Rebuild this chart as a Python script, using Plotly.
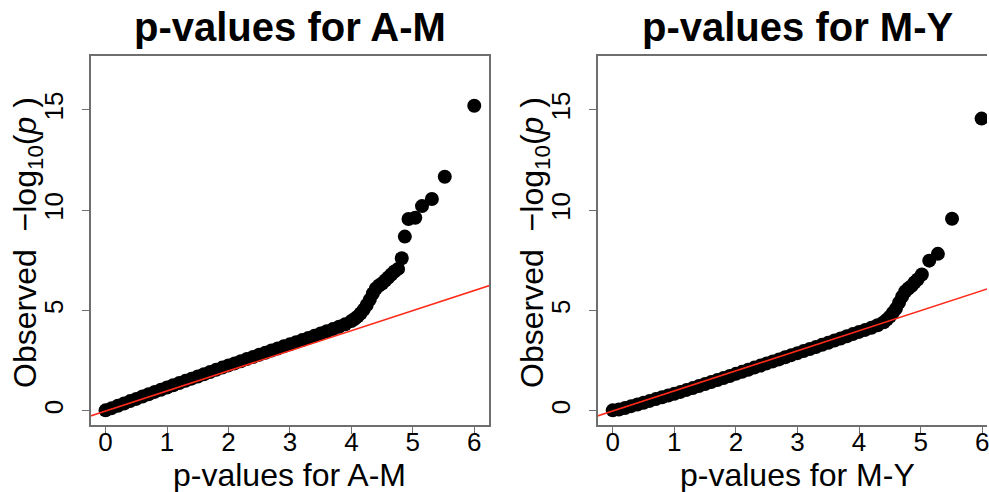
import plotly.graph_objects as go

# ---- data (expected vs observed -log10 p) ----
am_expected = [0.0, 0.1, 0.2, 0.3, 0.4, 0.5, 0.6, 0.7, 0.8, 0.9,
               1.0, 1.1, 1.2, 1.3, 1.4, 1.5, 1.6, 1.7, 1.8, 1.9,
               2.0, 2.1, 2.2, 2.3, 2.4, 2.5, 2.6, 2.7, 2.8, 2.9,
               3.0, 3.1, 3.2, 3.3, 3.4, 3.5, 3.6, 3.7, 3.8, 3.9,
               4.0, 4.05, 4.1, 4.15, 4.2, 4.25, 4.3, 4.35, 4.4, 4.45,
               4.5, 4.55, 4.6, 4.65, 4.7, 4.76, 4.82, 4.87, 4.93, 5.04,
               5.15, 5.31, 5.52, 6.0]
am_observed = [0.03, 0.14, 0.26, 0.37, 0.49, 0.60, 0.72, 0.83, 0.95, 1.06,
               1.17, 1.28, 1.39, 1.50, 1.61, 1.72, 1.83, 1.94, 2.05, 2.16,
               2.27, 2.37, 2.48, 2.59, 2.69, 2.80, 2.90, 3.01, 3.11, 3.22,
               3.32, 3.43, 3.53, 3.64, 3.75, 3.86, 3.97, 4.08, 4.20, 4.32,
               4.48, 4.58, 4.70, 4.86, 5.05, 5.28, 5.55, 5.85, 6.10, 6.25,
               6.35, 6.50, 6.65, 6.80, 6.95, 7.08, 7.61, 8.69, 9.57, 9.63,
               10.21, 10.56, 11.67, 15.21]

my_expected = [0.0, 0.1, 0.2, 0.3, 0.4, 0.5, 0.6, 0.7, 0.8, 0.9,
               1.0, 1.1, 1.2, 1.3, 1.4, 1.5, 1.6, 1.7, 1.8, 1.9,
               2.0, 2.1, 2.2, 2.3, 2.4, 2.5, 2.6, 2.7, 2.8, 2.9,
               3.0, 3.1, 3.2, 3.3, 3.4, 3.5, 3.6, 3.7, 3.8, 3.9,
               4.0, 4.1, 4.2, 4.3, 4.4, 4.45, 4.5, 4.55, 4.6, 4.65,
               4.7, 4.75, 4.8, 4.85, 4.9, 4.95, 5.02, 5.14, 5.28, 5.51,
               5.99]
my_observed = [0.03, 0.07, 0.15, 0.24, 0.32, 0.41, 0.50, 0.59, 0.68, 0.77,
               0.86, 0.95, 1.05, 1.14, 1.24, 1.34, 1.44, 1.54, 1.64, 1.74,
               1.85, 1.95, 2.05, 2.16, 2.26, 2.37, 2.47, 2.57, 2.68, 2.78,
               2.88, 2.99, 3.09, 3.19, 3.30, 3.40, 3.51, 3.61, 3.72, 3.83,
               3.94, 4.04, 4.15, 4.27, 4.42, 4.55, 4.70, 4.90, 5.10, 5.40,
               5.70, 5.95, 6.10, 6.22, 6.40, 6.55, 6.80, 7.49, 7.83, 9.58,
               14.57]

x_ticks = [0, 1, 2, 3, 4, 5, 6]
y_ticks = [0, 5, 10, 15]
panel_titles = ["p-values for A-M", "p-values for M-Y"]
abline_x = [-1, 8]          # y = x reference line (slope 1, intercept 0)
abline_y = [v for v in abline_x]

W, H = 989, 492
FONT = "Liberation Sans, Arial, Helvetica, sans-serif"
BOX = "#6e6e6e"

fig = go.Figure()

for i, (ex, ob) in enumerate([(am_expected, am_observed), (my_expected, my_observed)]):
    xa = "x" if i == 0 else "x2"
    ya = "y" if i == 0 else "y2"
    fig.add_trace(go.Scatter(x=ex, y=ob, mode="markers", xaxis=xa, yaxis=ya,
                             marker=dict(color="black", size=14, line=dict(width=0)),
                             showlegend=False, hoverinfo="skip"))
    fig.add_trace(go.Scatter(x=abline_x, y=abline_y, mode="lines", xaxis=xa, yaxis=ya,
                             line=dict(color="#ff2a1a", width=1.6),
                             showlegend=False, hoverinfo="skip"))

def px_x(p):
    return p / W

def px_y(p):
    return (H - p) / H

ydom = [px_y(425), px_y(56)]
axis_common = dict(showgrid=False, zeroline=False, showline=True, linecolor=BOX, linewidth=1.5,
                   ticks="outside", ticklen=7, tickwidth=1.3, tickcolor=BOX,
                   tickfont=dict(family=FONT, size=26, color="black"))

fig.update_layout(
    width=W, height=H, autosize=False,
    margin=dict(l=0, r=0, t=0, b=0),
    paper_bgcolor="white", plot_bgcolor="white",
    xaxis=dict(domain=[px_x(91), px_x(490)], range=[-0.24, 6.24], tickvals=x_ticks,
               mirror=True, anchor="y", ticklabelstandoff=-14, **axis_common),
    yaxis=dict(domain=ydom, range=[-0.70, 17.69], tickvals=y_ticks, tickangle=-90,
               mirror=True, anchor="x", ticklabelstandoff=9, **axis_common),
    xaxis2=dict(domain=[px_x(599), 1.0], range=[-0.243, 6.078], tickvals=x_ticks,
                mirror=True, anchor="y2", ticklabelstandoff=-14, ticklabeloverflow="allow",
                **axis_common),
    yaxis2=dict(domain=ydom, range=[-0.70, 17.69], tickvals=y_ticks, tickangle=-90,
                mirror=False, anchor="x2", ticklabelstandoff=9, **axis_common),
)

centers = [290.5, 799]
ylab_x = [28, 536]
for i in range(2):
    fig.add_annotation(text="<b>" + panel_titles[i] + "</b>", xref="paper", yref="paper",
                       x=px_x(centers[i]), y=px_y(27), xanchor="center", yanchor="middle",
                       showarrow=False, font=dict(family=FONT, size=40, color="black"))
    fig.add_annotation(text=panel_titles[i], xref="paper", yref="paper",
                       x=px_x(centers[i]), y=px_y(475), xanchor="center", yanchor="middle",
                       showarrow=False, font=dict(family=FONT, size=32, color="black"))
    fig.add_annotation(text="Observed\u00a0\u00a0\u2212log<sub>10</sub>(<i>p</i>\u00a0)", xref="paper", yref="paper",
                       x=px_x(ylab_x[i]), y=px_y(242), xanchor="center", yanchor="middle",
                       textangle=-90, showarrow=False, font=dict(family=FONT, size=32, color="black"))

fig.write_html("out.html", config={"displayModeBar": False},
               post_script="document.body.style.margin='0';document.body.style.overflow='hidden';")
